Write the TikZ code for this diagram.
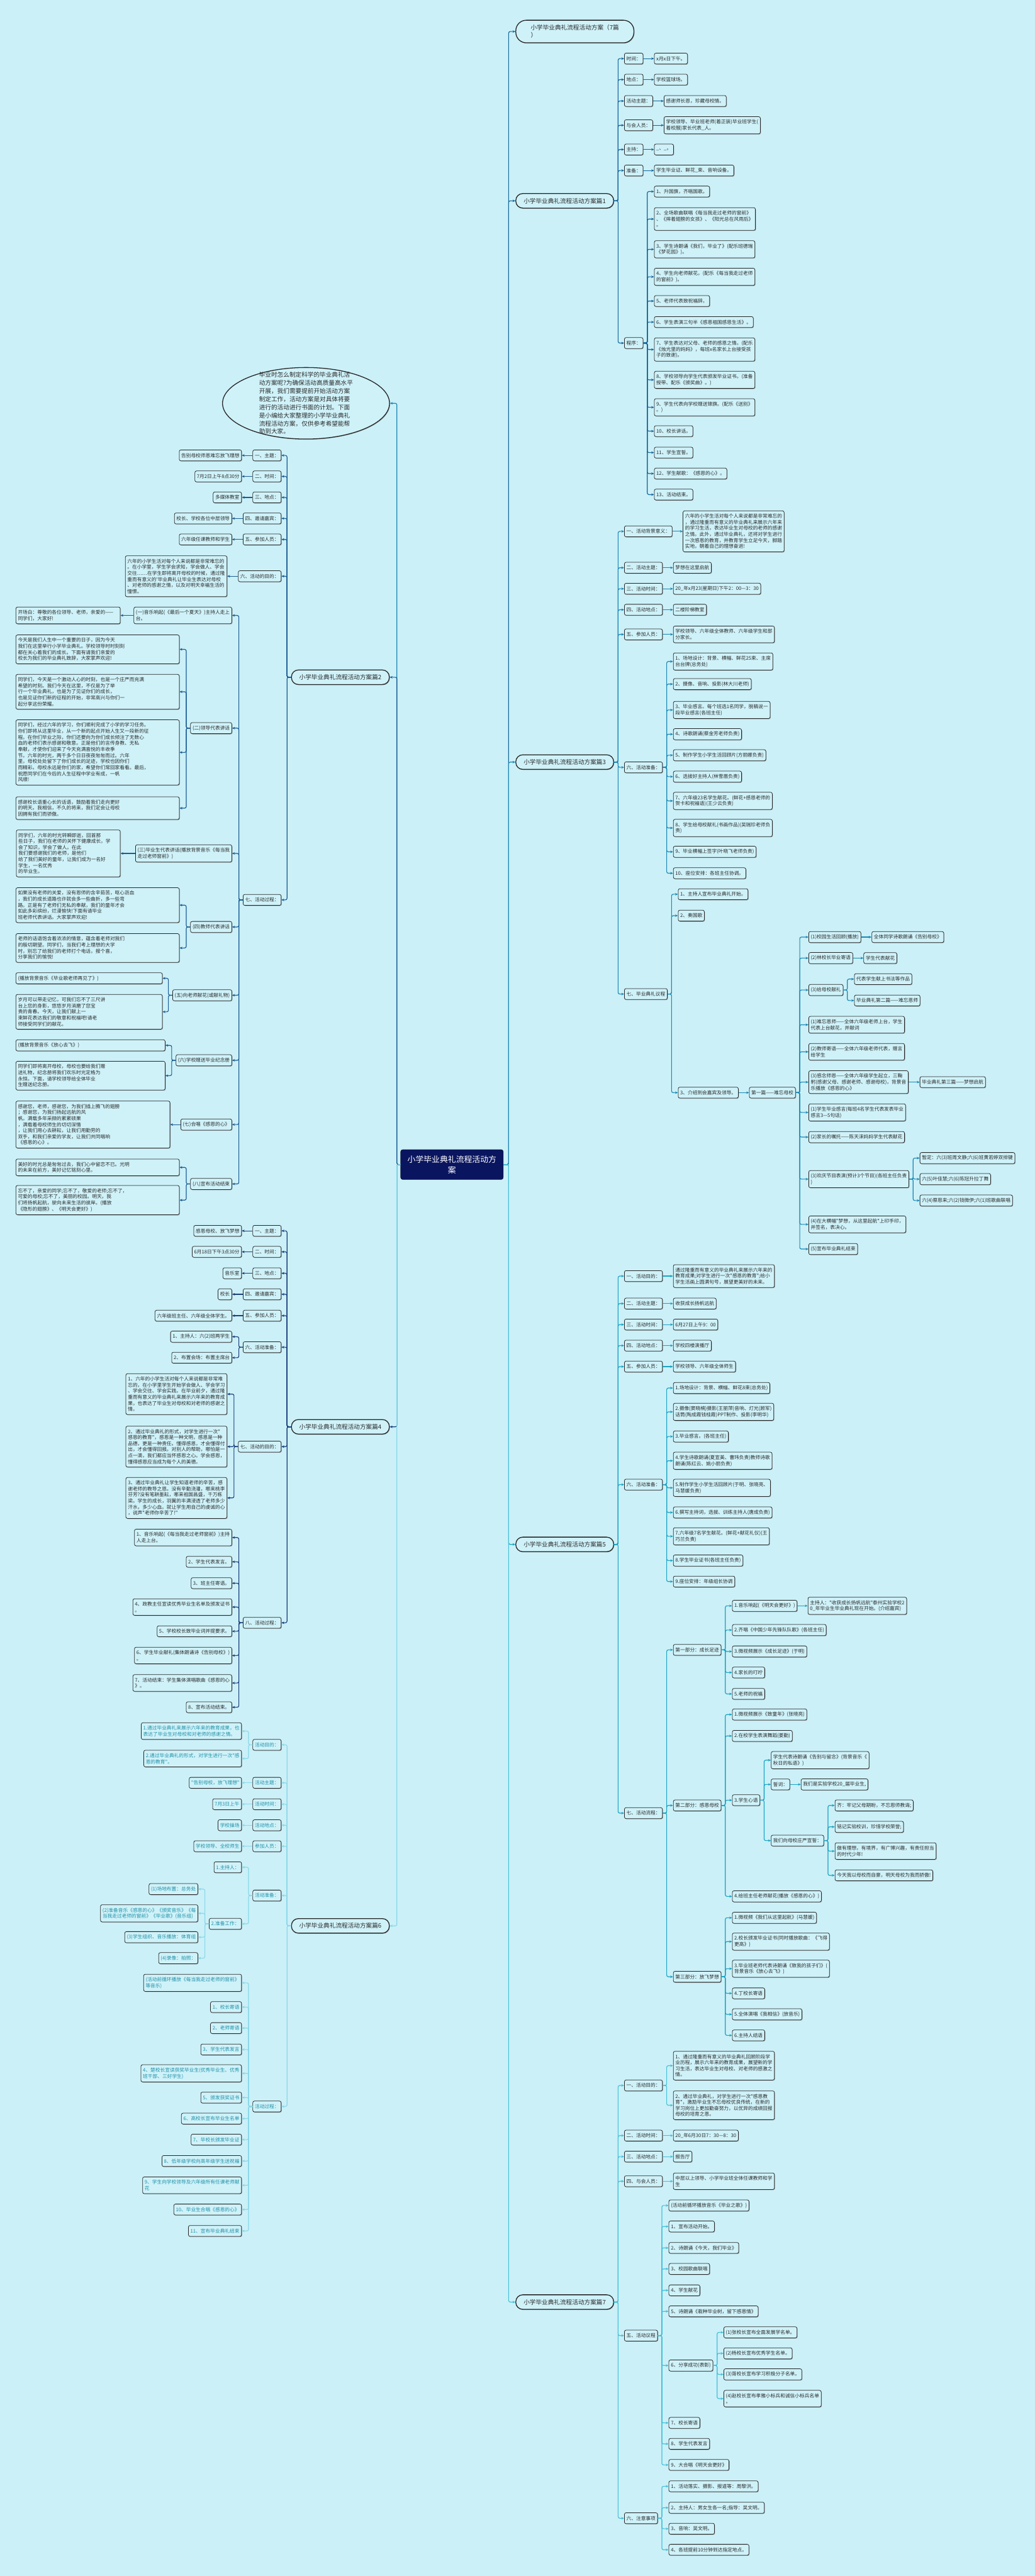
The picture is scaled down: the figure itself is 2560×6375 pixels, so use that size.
\documentclass[tikz,border=0pt]{standalone}
\usepackage{fontspec}
\newfontfamily\cjk{Noto Sans CJK SC}
\usepackage{tikz}
\usetikzlibrary{arrows.meta,positioning,shapes.geometric,shadows}
\definecolor{cBg}  {HTML}{CBF0F8}
\definecolor{cBox} {HTML}{CFF2F9}
\definecolor{cRoot}{HTML}{0A1560}
\definecolor{cInk} {HTML}{2B2B2B}
\definecolor{cTeal}{HTML}{2290A8}
\definecolor{cA}{HTML}{16679C}
\definecolor{cB}{HTML}{1B5D93}
\definecolor{cC}{HTML}{1B87B3}
\definecolor{cD}{HTML}{1A3F7C}
\definecolor{cE}{HTML}{1AA3C2}
\definecolor{cF}{HTML}{8AD8E8}
\definecolor{cG}{HTML}{45C0D7}
\tikzset{
  leaf/.style   ={draw=black!85,fill=cBox,rounded corners=4pt,line width=1.2pt,
                  align=left,font=\cjk\fontsize{12}{15}\selectfont,text=cInk,
                  inner xsep=5pt,inner ysep=7.5pt,minimum height=27pt,
                  drop shadow={shadow xshift=1.5pt,shadow yshift=-1.5pt,fill=black!60}},
  tleaf/.style  ={leaf,text=cTeal},
  branch/.style ={leaf,line width=2pt,rounded corners=17pt,minimum height=36pt,
                  minimum width=242pt,font=\cjk\fontsize{15}{19}\selectfont},
  rootbox/.style={fill=cRoot,draw=black,rounded corners=5pt,text=white,align=center,
                  font=\cjk\fontsize{20}{26}\selectfont,minimum width=254pt,minimum height=74pt},
  descbox/.style={ellipse,draw=black!85,fill=cBox,line width=2pt,align=left,
                  font=\cjk\fontsize{15}{20}\selectfont,text=cInk,inner xsep=26pt,inner ysep=-20pt,
                  minimum width=413pt,minimum height=177pt,
                  drop shadow={shadow xshift=1.5pt,shadow yshift=-1.5pt,fill=black!60}},
  lk/.style     ={draw=#1,line width=1.8pt,rounded corners=4pt,-{Stealth[length=7pt,width=6pt]}},
}
\begin{document}
\begin{tikzpicture}[x=1pt,y=-1pt]
\fill[cBg] (0,0) rectangle (2560,6375);
\useasboundingbox (0,0) rectangle (2560,6375);

\node[rootbox] (root) at (1118,2882) {小学毕业典礼流程活动方\\案};

% right side
\node[branch,anchor=west,minimum width=292pt,minimum height=56pt,rounded corners=26pt] (b0) at (1275,78) {小学毕业典礼流程活动方案（7篇\\）};
\node[branch,anchor=west] (b1) at (1275,497)  {小学毕业典礼流程活动方案篇1};
\node[branch,anchor=west] (b3) at (1275,1886) {小学毕业典礼流程活动方案篇3};
\node[branch,anchor=west] (b5) at (1275,3822) {小学毕业典礼流程活动方案篇5};
\node[branch,anchor=west] (b7) at (1275,5697) {小学毕业典礼流程活动方案篇7};
\foreach \nm/\cc in {b0/cA,b1/cA,b3/cC,b5/cE,b7/cG}
  \draw[lk=\cc] (root.east) -- ++(13,0) |- (\nm.west);

% left side
\node[descbox] (desc) at (757,998) {毕业时怎么制定科学的毕业典礼活\\动方案呢?为确保活动高质量高水平\\开展，我们需要提前开始活动方案\\制定工作，活动方案是对具体将要\\进行的活动进行书面的计划。下面\\是小编给大家整理的小学毕业典礼\\流程活动方案，仅供参考希望能帮\\助到大家。};
\node[branch,anchor=east] (b2) at (964,1676) {小学毕业典礼流程活动方案篇2};
\node[branch,anchor=east] (b4) at (964,3531) {小学毕业典礼流程活动方案篇4};
\node[branch,anchor=east] (b6) at (964,4766) {小学毕业典礼流程活动方案篇6};
\foreach \nm/\cc in {desc/cC,b2/cB,b4/cD,b6/cF}
  \draw[lk=\cc] (root.west) -- ++(-9,0) |- (\nm.east);

%% ---------- 篇1
\foreach \nm/\yy/\txt in {a1/145/{时间：},a2/197/{地点：},a3/250/{活动主题：},a4/310/{与会人员：},
                          a5/370/{主持：},a6/422/{准备：},a7/849/{程序：}}{
  \node[leaf,anchor=west] (\nm) at (1544,\yy) {\txt};
  \draw[lk=cA] (b1.east) -- ++(10,0) |- (\nm.west);
}
\foreach \nm/\xx/\yy/\txt in {a1/1618/145/{x月x日下午。},a2/1618/197/{学校篮球场。},
    a3/1642/250/{感谢师长恩，珍藏母校情。},
    a4/1642/310/{学校领导、毕业班老师(着正装)毕业班学生(\\着校服)家长代表\_人。},
    a5/1618/370/{\_、\_。},a6/1618/422/{学生毕业证、鲜花\_束、音响设备。}}{
  \node[leaf,anchor=west] (\nm-c) at (\xx,\yy) {\txt};
  \draw[lk=cA] (\nm.east) -- (\nm-c.west);
}
\foreach \nm/\yy/\txt in {
    a7a/474/{1、升国旗，齐唱国歌。},
    a7b/542/{2、全场歌曲联唱《每当我走过老师的窗前》\\、《摔着翅膀的女孩》、《阳光总在风雨后》\\。},
    a7c/617/{3、学生诗朗诵《我们，毕业了》(配乐班德瑞\\《梦花园》)。},
    a7d/685/{4、学生向老师献花。(配乐《每当我走过老师\\的窗前》)。},
    a7e/745/{5、老师代表致祝福辞。},
    a7f/797/{6、学生表演三句半《感恩祖国感恩生活》。},
    a7g/865/{7、学生表达对父母、老师的感恩之情。(配乐\\《烛光里的妈妈》，每班x名家长上台接受孩\\子的致谢)。},
    a7h/940/{8、学校领导向学生代表颁发毕业证书。(准备\\授带、配乐《颁奖曲》。)},
    a7i/1008/{9、学生代表向学校赠送锦旗。(配乐《送别》\\。)},
    a7j/1067/{10、校长讲话。},
    a7k/1120/{11、学生宣誓。},
    a7l/1172/{12、学生献歌：《感恩的心》。},
    a7m/1224/{13、活动结束。}}{
  \node[leaf,anchor=west] (\nm) at (1618,\yy) {\txt};
  \draw[lk=cA] (a7.east) -- ++(10,0) |- (\nm.west);
}

%% ---------- 篇3
\foreach \nm/\yy/\txt in {c1/1315/{一、活动背景意义：},c2/1405/{二、活动主题：},c3/1457/{三、活动时间：},
                          c4/1509/{四、活动地点：},c5/1570/{五、参加人员：},c6/1899/{六、活动准备：},
                          c7/2460/{七、毕业典礼议程}}{
  \node[leaf,anchor=west] (\nm) at (1544,\yy) {\txt};
  \draw[lk=cC] (b3.east) -- ++(10,0) |- (\nm.west);
}
\foreach \nm/\xx/\yy/\txt in {
    c1/1689/1315/{六年的小学生活对每个人来说都是非常难忘的\\，通过隆重而有意义的毕业典礼来展示六年来\\的学习生活，表达毕业生对母校的老师的感谢\\之情。此外，通过毕业典礼，还将对学生进行\\一次感恩的教育，并教育学生立足今天，脚踏\\实地，朝着自己的理想奋进!},
    c2/1665/1405/{梦想在这里启航},
    c3/1665/1457/{20\_年x月23(星期日)下午2：00—3：30},
    c4/1665/1509/{二楼阶梯教室},
    c5/1665/1570/{学校领导、六年级全体教师、六年级学生和部\\分家长。}}{
  \node[leaf,anchor=west] (\nm-c) at (\xx,\yy) {\txt};
  \draw[lk=cC] (\nm.east) -- (\nm-c.west);
}
\foreach \nm/\yy/\txt in {
    c6a/1637/{1、场地设计：背景、横幅、鲜花25束、主席\\台台牌(总务处)},
    c6b/1693/{2、摄像、音响、投影(林大川老师)},
    c6c/1757/{3、毕业感言。每个班选1名同学，脱稿说一\\段毕业感言(各班主任)},
    c6d/1817/{4、诗歌朗诵(蔡金芳老师负责)},
    c6e/1869/{5、制作学生小学生活回顾片(方丽娜负责)},
    c6f/1922/{6、选拔好主持人(林雪眉负责)},
    c6g/1982/{7、六年级23名学生献花。(鲜花+感恩老师的\\贺卡和祝福语)(王少云负责)},
    c6h/2049/{8、学生给母校献礼(书画作品)(吴瑞珍老师负\\责)},
    c6i/2108/{9、毕业横幅上签字(叶晓飞老师负责)},
    c6j/2161/{10、座位安排：各班主任协调。}}{
  \node[leaf,anchor=west] (\nm) at (1665,\yy) {\txt};
  \draw[lk=cC] (c6.east) -- ++(10,0) |- (\nm.west);
}
\foreach \nm/\yy/\txt in {c7a/2213/{1、主持人宣布毕业典礼开始。},c7b/2266/{2、奏国歌},
                          c7c/2704/{3、介绍到会嘉宾及领导。}}{
  \node[leaf,anchor=west] (\nm) at (1677,\yy) {\txt};
  \draw[lk=cC] (c7.east) -- ++(10,0) |- (\nm.west);
}
\node[leaf,anchor=west] (pt1) at (1853,2704) {第一篇——难忘母校};
\draw[lk=cC] (c7c.east) -- (pt1.west);
\foreach \nm/\yy/\txt in {
    f1/2319/{(1)校园生活回顾(播放)},
    f2/2371/{(2)林校长毕业寄语},
    f3/2450/{(3)给母校献礼},
    f4/2536/{(1)难忘恩师——全体六年级老师上台，学生\\代表上台献花，并献词},
    f5/2603/{(2)教师寄语——全体六年级老师代表，赠言\\给学生},
    f6/2678/{(3)感念师恩——全体六年级学生起立，三鞠\\躬(感谢父母、感谢老师、感谢母校)，背景音\\乐播放《感恩的心》},
    f7/2753/{(1)学生毕业感言(每班4名学生代表发表毕业\\感言3—5句话)},
    f8/2814/{(2)家长的嘱托——陈天涞妈妈学生代表献花},
    f9/2918/{(3)欢庆节目表演(预计3个节目)(各班主任负责\\)},
    f10/3030/{(4)在大横幅"梦想，从这里起航"上印手印，\\并签名，表决心。},
    f11/3091/{(5)宣布毕业典礼结束}}{
  \node[leaf,anchor=west] (\nm) at (2000,\yy) {\txt};
  \draw[lk=cC] (pt1.east) -- ++(10,0) |- (\nm.west);
}
\node[leaf,anchor=west] (f1-c) at (2156,2319) {全体同学诗歌朗诵《告别母校》};
\node[leaf,anchor=west] (f2-c) at (2136,2371) {学生代表献花};
\node[leaf,anchor=west] (f6-c) at (2275,2678) {毕业典礼第三篇——梦想启航};
\foreach \nm in {f1,f2,f6} \draw[lk=cC] (\nm.east) -- (\nm-c.west);
\node[leaf,anchor=west] (f3a) at (2113,2423) {代表学生献上书法等作品};
\node[leaf,anchor=west] (f3b) at (2113,2476) {毕业典礼第二篇——难忘恩师};
\foreach \nm in {f3a,f3b} \draw[lk=cC] (f3.east) -- ++(10,0) |- (\nm.west);
\foreach \nm/\yy/\txt in {f9a/2866/{暂定：六(3)班周文静;六(6)班黄若婷双排键},
                          f9b/2918/{六(5)叶佳慧;六(6)陈冠升拉丁舞},
                          f9c/2971/{六(4)蔡恩来;六(2)钱微伊;六(1)班歌曲联唱}}{
  \node[leaf,anchor=west] (\nm) at (2275,\yy) {\txt};
  \draw[lk=cC] (f9.east) -- ++(10,0) |- (\nm.west);
}

%% ---------- 篇5
\foreach \nm/\yy/\txt in {e1/3158/{一、活动目的：},e2/3226/{二、活动主题：},e3/3278/{三、活动时间：},
                          e4/3330/{四、活动地点：},e5/3382/{五、参加人员：},e6/3674/{六、活动准备：},
                          e7/4487/{七、活动流程：}}{
  \node[leaf,anchor=west] (\nm) at (1544,\yy) {\txt};
  \draw[lk=cE] (b5.east) -- ++(10,0) |- (\nm.west);
}
\foreach \nm/\yy/\txt in {
    e1/3158/{通过隆重而有意义的毕业典礼来展示六年来的\\教育成果;对学生进行一次"感恩的教育";给小\\学生活画上圆满句号，展望更美好的未来。},
    e2/3226/{收获成长扬帆远航},
    e3/3278/{6月27日上午9：00},
    e4/3330/{学校四楼演播厅},
    e5/3382/{学校领导、六年级全体师生}}{
  \node[leaf,anchor=west] (\nm-c) at (1665,\yy) {\txt};
  \draw[lk=cE] (\nm.east) -- (\nm-c.west);
}
\foreach \nm/\yy/\txt in {
    e6a/3435/{1.场地设计：背景、横幅、鲜花8束(总务处)},
    e6b/3494/{2.摄像(窦晓楠)摄影(王丽萍)音响、灯光(顾军)\\话筒(陶成霞钱桂霞)PPT制作、投影(李明华)},
    e6c/3555/{3.毕业感言。(各班主任)},
    e6d/3615/{4.学生诗歌朗诵(夏宣美、曹玮负责)教师诗歌\\朗诵(陈红云、姚小丽负责)},
    e6e/3682/{5.制作学生小学生活回顾片(于明、张晓亮、\\马慧媛负责)},
    e6f/3743/{6.撰写主持词，选拔、训练主持人(唐成负责)},
    e6g/3802/{7.六年级7名学生献花。(鲜花+献花礼仪)(王\\巧兰负责)},
    e6h/3862/{8.学生毕业证书(各班主任负责)},
    e6i/3914/{9.座位安排：年级组长协调}}{
  \node[leaf,anchor=west] (\nm) at (1665,\yy) {\txt};
  \draw[lk=cE] (e6.east) -- ++(10,0) |- (\nm.west);
}
\foreach \nm/\yy/\txt in {pa/4083/{第一部分：成长足迹},pb/4468/{第二部分：感恩母校},pc/4892/{第三部分：放飞梦想}}{
  \node[leaf,anchor=west] (\nm) at (1665,\yy) {\txt};
  \draw[lk=cE] (e7.east) -- ++(10,0) |- (\nm.west);
}
\foreach \nm/\yy/\txt in {pa1/3974/{1.音乐响起(《明天会更好》)},pa2/4034/{2.齐唱《中国少年先锋队队歌》(各班主任)},
                          pa3/4087/{3.微视频展示《成长足迹》(于明)},pa4/4139/{4.家长的叮咛},pa5/4192/{5.老师的祝福}}{
  \node[leaf,anchor=west] (\nm) at (1811,\yy) {\txt};
  \draw[lk=cE] (pa.east) -- ++(10,0) |- (\nm.west);
}
\node[leaf,anchor=west] (pa1-c) at (1998,3974) {主持人："收获成长扬帆远航"泰州实验学校2\\0\_年毕业生毕业典礼现在开始。(介绍嘉宾)};
\draw[lk=cE] (pa1.east) -- (pa1-c.west);
\foreach \nm/\yy/\txt in {pb1/4243/{1.微视频展示《致童年》(张晓亮)},pb2/4296/{2.在校学生表演舞蹈(姜勤)},
                          pb3/4455/{3.学生心语},pb4/4693/{4.给班主任老师献花(播放《感恩的心》)}}{
  \node[leaf,anchor=west] (\nm) at (1811,\yy) {\txt};
  \draw[lk=cE] (pb.east) -- ++(10,0) |- (\nm.west);
}
\foreach \nm/\yy/\txt in {sx1/4356/{学生代表诗朗诵《告别与留念》(背景音乐《\\秋日的私语》)},sx2/4416/{誓词：},
                          sx3/4555/{我们向母校庄严宣誓：}}{
  \node[leaf,anchor=west] (\nm) at (1907,\yy) {\txt};
  \draw[lk=cE] (pb3.east) -- ++(10,0) |- (\nm.west);
}
\node[leaf,anchor=west] (sx2-c) at (1981,4416) {我们是实验学校20\_届毕业生,};
\draw[lk=cE] (sx2.east) -- (sx2-c.west);
\foreach \nm/\yy/\txt in {oa/4468/{齐：牢记父母期盼，不忘恩师教诲;},ob/4521/{铭记实验校训，珍惜学校荣誉;},
                          oc/4581/{做有理想，有境界，有广博兴趣，有责任担当\\的时代少年!},
                          od/4641/{今天我以母校而自豪，明天母校为我而骄傲!}}{
  \node[leaf,anchor=west] (\nm) at (2065,\yy) {\txt};
  \draw[lk=cE] (sx3.east) -- ++(10,0) |- (\nm.west);
}
\foreach \nm/\yy/\txt in {pc1/4746/{1.微视频《我们从这里起航》(马慧媛)},
                          pc2/4805/{2.校长颁发毕业证书(同时播放歌曲：《飞得\\更高》)},
                          pc3/4872/{3.毕业班老师代表诗朗诵《致我的孩子们》(\\背景音乐《放心去飞》)},
                          pc4/4933/{4.丁校长寄语},pc5/4985/{5.全体演唱《我相信》(放音乐)},pc6/5037/{6.主持人结语}}{
  \node[leaf,anchor=west] (\nm) at (1811,\yy) {\txt};
  \draw[lk=cE] (pc.east) -- ++(10,0) |- (\nm.west);
}

%% ---------- 篇7
\foreach \nm/\yy/\txt in {g1/5161/{一、活动目的：},g2/5285/{二、活动时间：},g3/5337/{三、活动地点：},
                          g4/5398/{四、与会人员：},g5/5780/{五、活动议程},g6/6232/{六、注意事项}}{
  \node[leaf,anchor=west] (\nm) at (1544,\yy) {\txt};
  \draw[lk=cG] (b7.east) -- ++(10,0) |- (\nm.west);
}
\foreach \nm/\yy/\txt in {g1a/5112/{1、通过隆重而有意义的毕业典礼回顾阶段学\\业历程，展示六年来的教育成果，展望新的学\\习生活，表达毕业生对母校、对老师的感激之\\情。},
                          g1b/5210/{2、通过毕业典礼，对学生进行一次"感恩教\\育"，激励毕业生不忘母校优良传统，在新的\\学习岗位上更加勤奋努力，以优异的成绩回报\\母校的培育之恩。}}{
  \node[leaf,anchor=west] (\nm) at (1665,\yy) {\txt};
  \draw[lk=cG] (g1.east) -- ++(10,0) |- (\nm.west);
}
\foreach \nm/\yy/\txt in {g2/5285/{20\_年6月30日7：30—8：30},g3/5337/{报告厅},
                          g4/5398/{中层以上领导、小学毕业班全体任课教师和学\\生}}{
  \node[leaf,anchor=west] (\nm-c) at (1665,\yy) {\txt};
  \draw[lk=cG] (\nm.east) -- (\nm-c.west);
}
\foreach \nm/\yy/\txt in {g5a/5458/{(活动前循环播放音乐《毕业之歌》)},g5b/5510/{1、宣布活动开始。},
                          g5c/5563/{2、诗朗诵《今天，我们毕业》},g5d/5615/{3、校园歌曲联唱},g5e/5668/{4、学生献花},
                          g5f/5720/{5、诗朗诵《栽种毕业树，留下感恩情》},g5g/5854/{6、分享成功(表彰)},
                          g5h/5996/{7、校长寄语},g5i/6048/{8、学生代表发言},g5j/6100/{9、大合唱《明天会更好》}}{
  \node[leaf,anchor=west] (\nm) at (1654,\yy) {\txt};
  \draw[lk=cG] (g5.east) -- ++(10,0) |- (\nm.west);
}
\foreach \nm/\yy/\txt in {h1/5772/{(1)张校长宣布全面发展学名单。},h2/5824/{(2)杨校长宣布优秀学生名单。},
                          h3/5876/{(3)胥校长宣布学习积极分子名单。},h4/5936/{(4)赵校长宣布孝雅小标兵和诚信小标兵名单\\。}}{
  \node[leaf,anchor=west] (\nm) at (1790,\yy) {\txt};
  \draw[lk=cG] (g5g.east) -- ++(10,0) |- (\nm.west);
}
\foreach \nm/\yy/\txt in {g6a/6153/{1、活动落实、摄影、报道等：周黎洪。},g6b/6206/{2、主持人：男女生各一名;指导：吴文明。},
                          g6c/6258/{3、音响：吴文明。},g6d/6310/{4、各班提前10分钟到达指定地点。}}{
  \node[leaf,anchor=west] (\nm) at (1654,\yy) {\txt};
  \draw[lk=cG] (g6.east) -- ++(10,0) |- (\nm.west);
}

%% ---------- 篇2
\foreach \nm/\yy/\txt in {l1/1127/{一、主题：},l2/1179/{二、时间：},l3/1231/{三、地点：},l4/1283/{四、邀请嘉宾：},
                          l5/1335/{五、参加人员：},l6/1426/{六、活动的目的：},l7/2227/{七、活动过程：}}{
  \node[leaf,anchor=east] (\nm) at (696,\yy) {\txt};
  \draw[lk=cB] (b2.west) -- ++(-10,0) |- (\nm.east);
}
\foreach \nm/\xx/\yy/\txt in {l1/598/1127/{告别母校师恩难忘放飞理想},l2/598/1179/{7月2日上午8点30分},
    l3/598/1231/{多媒体教室},l4/574/1283/{校长、学校各位中层领导},l5/574/1335/{六年级任课教师和学生},
    l6/562/1426/{六年的小学生活对每个人来说都是非常难忘的\\。在小学里，学生学会求知，学会做人、学会\\交往……在学生即将离开母校的时候，通过隆\\重而有意义的'毕业典礼让毕业生表达对母校\\、对老师的感谢之情，以及对明天幸福生活的\\憧憬。}}{
  \node[leaf,anchor=east] (\nm-c) at (\xx,\yy) {\txt};
  \draw[lk=cB] (\nm.west) -- (\nm-c.east);
}
\foreach \nm/\yy/\txt in {m1/1523/{(一)音乐响起(《最后一个夏天》)主持人走上\\台。},m2/1802/{(二)领导代表讲话},
                          m3/2112/{(三)毕业生代表讲话(播放背景音乐《每当我\\走过老师窗前》)},m4/2294/{(四)教师代表讲话},
                          m5/2463/{(五)向老师献花(或献礼物)},m6/2624/{(六)学校赠送毕业纪念册},
                          m7/2783/{(七)合唱《感恩的心》},m8/2930/{(八)宣布活动结束}}{
  \node[leaf,anchor=east] (\nm) at (574,\yy) {\txt};
  \draw[lk=cB] (l7.west) -- ++(-10,0) |- (\nm.east);
}
\node[leaf,anchor=east,text width=248pt] (m1-c) at (298,1523) {开场白：尊敬的各位领导、老师，亲爱的——\\同学们，大家好!};
\draw[lk=cB] (m1.west) -- (m1-c.east);
\foreach \nm/\yy/\txt in {
    m2a/1607/{今天是我们人生中一个重要的日子，因为今天\\我们在这里举行小学毕业典礼。学校领导时时刻刻\\都在关心着我们的成长。下面有请我们亲爱的\\校长为我们的毕业典礼致辞，大家掌声欢迎!},
    m2b/1712/{同学们，今天是一个激动人心的时刻，也是一个庄严而充满\\希望的时刻。我们今天在这里，不仅是为了举\\行一个毕业典礼，也是为了见证你们的成长，\\也是见证你们新的征程的开始，非常高兴与你们一\\起分享这份荣耀。},
    m2c/1862/{同学们，经过六年的学习，你们顺利完成了小学的学习任务。\\你们即将从这里毕业，从一个新的起点开始人生又一段新的征\\程。在你们毕业之际，你们还要向为你们成长倾注了无数心\\血的老师们表示感谢和敬意。正是他们的言传身教、无私\\奉献，才使你们迎来了今天充满喜悦的丰收季\\节。六年的时光，两千多个日日夜夜匆匆而过。六年\\里，母校处处留下了你们成长的足迹，学校也因你们\\而精彩。母校永远是你们的家，希望你们常回家看看。最后，\\祝愿同学们在今后的人生征程中学业有成，一帆\\风顺!},
    m2d/2000/{感谢校长语重心长的话语，鼓励着我们走向更好\\的明天。我相信，不久的将来，我们定会让母校\\因拥有我们而骄傲。}}{
  \node[leaf,anchor=east,text width=394pt] (\nm) at (444,\yy) {\txt};
  \draw[lk=cB] (m2.west) -- ++(-10,0) |- (\nm.east);
}
\node[leaf,anchor=east,text width=247pt] (m3-c) at (298,2112) {同学们，六年的时光转瞬即逝，回首那\\些日子，我们在老师的关怀下健康成长，学\\会了知识，学会了做人。在此\\我们要感谢我们的老师，是他们\\给了我们美好的童年，让我们成为一名好\\学生，一名优秀\\的毕业生。};
\draw[lk=cB] (m3.west) -- (m3-c.east);
\foreach \nm/\yy/\txt in {
    m4a/2240/{如果没有老师的关爱，没有恩师的含辛茹苦，呕心沥血\\，我们的成长道路也许就会多一些曲折，多一些弯\\路。正是有了老师们无私的奉献，我们的童年才会\\如此多彩缤纷，烂漫愉快!下面有请毕业\\班老师代表讲话。大家掌声欢迎!},
    m4b/2346/{老师的话语饱含着浓浓的情意，蕴含着老师对我们\\的殷切期望。同学们，当我们考上理想的大学\\时，别忘了给我们的老师打个电话，报个喜，\\分享我们的愉悦!}}{
  \node[leaf,anchor=east,text width=394pt] (\nm) at (444,\yy) {\txt};
  \draw[lk=cB] (m4.west) -- ++(-10,0) |- (\nm.east);
}
\foreach \nm/\yy/\txt in {
    m5a/2421/{(播放背景音乐《毕业歌老师再见了》)},
    m5b/2504/{岁月可以带走记忆，可我们忘不了三尺讲\\台上您的身影，悠悠岁月消磨了您宝\\贵的青春。今天，让我们献上一\\束鲜花表达我们的敬意和祝福吧!请老\\师接受同学们的献花。}}{
  \node[leaf,anchor=east,text width=352pt] (\nm) at (402,\yy) {\txt};
  \draw[lk=cB] (m5.west) -- ++(-10,0) |- (\nm.east);
}
\foreach \nm/\yy/\txt in {
    m6a/2587/{(播放背景音乐《放心去飞》)},
    m6b/2662/{同学们即将离开母校，母校也要给我们赠\\送礼物，纪念册将我们欢乐时光定格为\\永恒。下面，请学校领导给全体毕业\\生赠送纪念册。}}{
  \node[leaf,anchor=east,text width=359pt] (\nm) at (409,\yy) {\txt};
  \draw[lk=cB] (m6.west) -- ++(-10,0) |- (\nm.east);
}
\node[leaf,anchor=east,text width=371pt] (m7-c) at (421,2783) {感谢您，老师，感谢您，为我们插上腾飞的翅膀\\；感谢您，为我们扬起远航的风\\帆。满载多年采撷的累累硕果\\，满载着母校师生的切切深情\\，让我们用心去耕耘，让我们用勤劳的\\双手，和我们亲爱的学友，让我们共同唱响\\《感恩的心》。};
\draw[lk=cB] (m7.west) -- (m7-c.east);
\foreach \nm/\yy/\txt in {
    m8a/2889/{美好的时光总是匆匆过去，我们心中留恋不已。光明\\的未来在前方，美好记忆铭刻心里。},
    m8b/2970/{忘不了，亲爱的同学;忘不了，敬爱的老师;忘不了，\\可爱的母校;忘不了，美丽的校园。明天，我\\们将扬帆起航，驶向未来生活的彼岸。(播放\\《隐形的翅膀》、《明天会更好》)}}{
  \node[leaf,anchor=east,text width=394pt] (\nm) at (444,\yy) {\txt};
  \draw[lk=cB] (m8.west) -- ++(-10,0) |- (\nm.east);
}

%% ---------- 篇4
\foreach \nm/\yy/\txt in {u1/3046/{一、主题：},u2/3098/{二、时间：},u3/3151/{三、地点：},u4/3203/{四、邀请嘉宾：},
                          u5/3256/{五、参加人员：},u6/3334/{六、活动准备：},u7/3580/{七、活动的目的：},u8/4016/{八、活动过程：}}{
  \node[leaf,anchor=east] (\nm) at (696,\yy) {\txt};
  \draw[lk=cD] (b4.west) -- ++(-10,0) |- (\nm.east);
}
\foreach \nm/\xx/\yy/\txt in {u1/598/3046/{感恩母校、放飞梦想},u2/598/3098/{6月18日下午3点30分},u3/598/3151/{音乐室},
                              u4/574/3203/{校长},u5/574/3256/{六年级班主任、六年级全体学生。}}{
  \node[leaf,anchor=east] (\nm-c) at (\xx,\yy) {\txt};
  \draw[lk=cD] (\nm.west) -- (\nm-c.east);
}
\foreach \nm/\yy/\txt in {u6a/3308/{1、主持人：六(2)班两学生},u6b/3360/{2、布置会场：布置主席台}}{
  \node[leaf,anchor=east] (\nm) at (574,\yy) {\txt};
  \draw[lk=cD] (u6.west) -- ++(-10,0) |- (\nm.east);
}
\foreach \nm/\yy/\txt in {
    u7a/3450/{1、六年的小学生活对每个人来说都是非常难\\忘的，在小学里学生开始学会做人、学会学习\\、学会交往、学会实践。在毕业前夕，通过隆\\重而有意义的毕业典礼来展示六年来的教育成\\果，也表达了毕业生对母校和对老师的感谢之\\情。},
    u7b/3580/{2、通过毕业典礼的形式，对学生进行一次"\\感恩的教育"，感恩是一种文明，感恩是一种\\品德，更是一种责任。懂得感恩，才会懂得付\\出，才会懂得回报。对别人的帮助，哪怕是一\\点一滴，我们都应当怀感恩之心。学会感恩，\\懂得感恩应当成为每个人的美德。},
    u7c/3707/{3、通过毕业典礼让学生知道老师的辛苦，感\\谢老师的教导之恩。没有辛勤浇灌，哪来桃李\\芬芳?没有笔耕墨耘，哪来祖国昌盛，千万栋\\梁。学生的成长，羽翼的丰满浸透了老师多少\\汗水，多少心血。就让学生用自己的虔诚的心\\，说声"老师你辛苦了!"}}{
  \node[leaf,anchor=east] (\nm) at (562,\yy) {\txt};
  \draw[lk=cD] (u7.west) -- ++(-10,0) |- (\nm.east);
}
\foreach \nm/\yy/\txt in {
    u8a/3805/{1、音乐响起(《每当我走过老师窗前》)主持\\人走上台。},
    u8b/3865/{2、学生代表发言。},u8c/3918/{3、班主任寄语。},
    u8d/3977/{4、政教主任宣读优秀毕业生名单及颁发证书\\。},
    u8e/4037/{5、学校校长致毕业词并提要求。},
    u8f/4097/{6、学生毕业献礼(集体朗诵诗《告别母校》)\\。},
    u8g/4165/{7、活动结束：学生集体演唱歌曲《感恩的心\\》。},
    u8h/4225/{8、宣布活动结束。}}{
  \node[leaf,anchor=east] (\nm) at (574,\yy) {\txt};
  \draw[lk=cD] (u8.west) -- ++(-10,0) |- (\nm.east);
}

%% ---------- 篇6
\foreach \nm/\yy/\txt in {v1/4318/{活动目的：},v2/4412/{活动主题：},v3/4465/{活动时间：},v4/4517/{活动地点：},
                          v5/4569/{参加人员：},v6/4691/{活动准备：},v7/5213/{活动过程：}}{
  \node[tleaf,anchor=east] (\nm) at (696,\yy) {\txt};
  \draw[lk=cF] (b6.west) -- ++(-10,0) |- (\nm.east);
}
\foreach \nm/\yy/\txt in {v1a/4284/{1.通过毕业典礼来展示六年来的教育成果，也\\表达了毕业生对母校和对老师的感谢之情。},
                          v1b/4352/{2.通过毕业典礼的形式，对学生进行一次"感\\恩的教育"。}}{
  \node[tleaf,anchor=east] (\nm) at (598,\yy) {\txt};
  \draw[lk=cF] (v1.west) -- ++(-10,0) |- (\nm.east);
}
\foreach \nm/\yy/\txt in {v2/4412/{"告别母校，放飞理想"},v3/4465/{7月3日上午},v4/4517/{学校操场},v5/4569/{学校领导、全校师生}}{
  \node[tleaf,anchor=east] (\nm-c) at (598,\yy) {\txt};
  \draw[lk=cF] (\nm.west) -- (\nm-c.east);
}
\foreach \nm/\yy/\txt in {v6a/4621/{1.主持人：},v6b/4761/{2.准备工作：}}{
  \node[tleaf,anchor=east] (\nm) at (598,\yy) {\txt};
  \draw[lk=cF] (v6.west) -- ++(-10,0) |- (\nm.east);
}
\foreach \nm/\yy/\txt in {w1/4675/{(1)场地布置：总务处},
                          w2/4735/{(2)准备音乐《感恩的心》《颁奖音乐》《每\\当我走过老师的窗前》《毕业歌》(音乐组)},
                          w3/4794/{(3)学生组织、音乐播放：体育组},w4/4846/{(4)录像：拍照：}}{
  \node[tleaf,anchor=east] (\nm) at (490,\yy) {\txt};
  \draw[lk=cF] (v6b.west) -- ++(-10,0) |- (\nm.east);
}
\foreach \nm/\yy/\txt in {
    x1/4907/{(活动前循环播放《每当我走过老师的窗前》\\等音乐)},
    x2/4967/{1、校长寄语},x3/5019/{2、老师寄语},x4/5072/{3、学生代表发言},
    x5/5131/{4、楚校长宣读获奖毕业生(优秀毕业生、优秀\\班干部、三好学生)},
    x6/5191/{5、颁发获奖证书},x7/5243/{6、高校长宣布毕业生名单},x8/5295/{7、毕校长颁发毕业证},
    x9/5348/{8、低年级学校向高年级学生送祝福},
    x10/5408/{9、学生向学校领导及六年级所有任课老师献\\花},
    x11/5468/{10、毕业生合唱《感恩的心》},x12/5521/{11、宣布毕业典礼结束}}{
  \node[tleaf,anchor=east] (\nm) at (598,\yy) {\txt};
  \draw[lk=cF] (v7.west) -- ++(-10,0) |- (\nm.east);
}
\end{tikzpicture}
\end{document}
